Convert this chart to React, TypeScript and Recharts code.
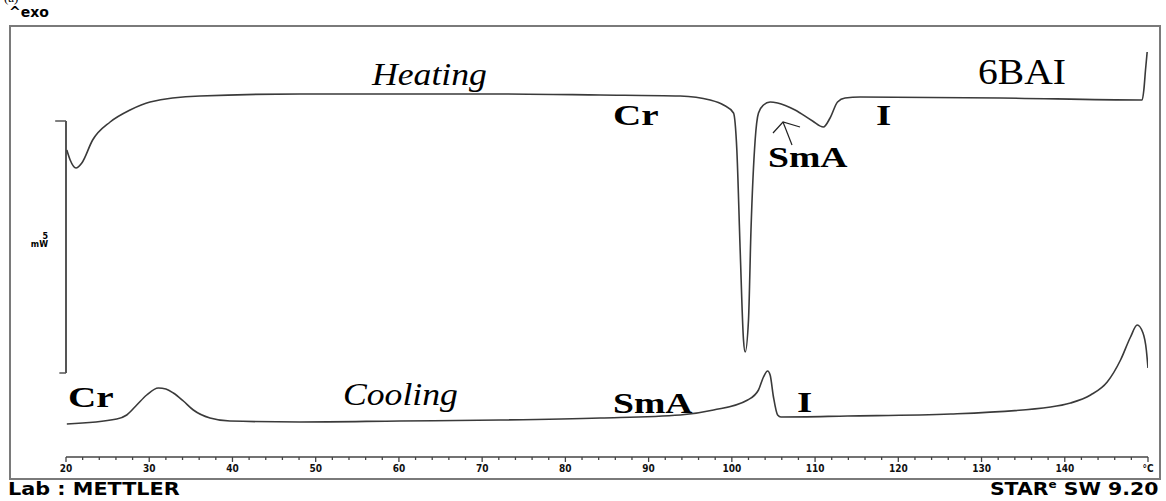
import { LineChart, Line, XAxis, YAxis, ReferenceLine } from "recharts";

// DSC trace of 6BAI, heat flow in mW (exo up)
const heatingT = [
  20.1, 20.5, 21.2, 21.9, 23.2, 25.3, 27.7, 30.1, 36.1, 48.1, 60.1, 72.2, 84.2, 93.8, 97.4, 99.0,
  100.2, 100.6, 101.0, 101.4, 101.6, 102.0, 102.3, 102.8, 103.2, 103.8, 104.6, 105.5, 107.6, 109.7,
  111.0, 111.8, 112.7, 113.6, 115.4, 132.3, 149.1, 149.3, 149.5, 149.7, 149.9,
];
const heatingMW = [
  6.2, 6.0, 5.84, 5.94, 6.4, 6.76, 7.0, 7.16, 7.28, 7.32, 7.32, 7.32, 7.3, 7.28, 7.2, 7.1,
  6.94, 6.2, 4.2, 2.4, 2.16, 2.8, 4.6, 6.4, 6.94, 7.1, 7.16, 7.14, 7.0, 6.78,
  6.66, 6.84, 7.16, 7.24, 7.26, 7.24, 7.2, 7.2, 7.4, 7.8, 8.16,
];

const coolingT = [
  20.1, 26.1, 27.3, 28.5, 29.7, 31.1, 32.0, 32.9, 34.1, 35.3, 37.3, 39.7, 48.1, 60.1, 72.2, 84.2,
  93.8, 97.8, 101.9, 103.2, 103.8, 104.3, 104.6, 105.0, 105.5, 105.9, 113.9, 126.3, 138.3, 140.7,
  143.1, 145.1, 146.7, 147.9, 148.7, 149.4, 149.8, 150.0,
];
const coolingMW = [
  0.72, 0.82, 0.9, 1.1, 1.3, 1.44, 1.42, 1.34, 1.18, 1.0, 0.84, 0.78, 0.76, 0.78, 0.8, 0.84,
  0.9, 1.0, 1.2, 1.4, 1.66, 1.78, 1.7, 1.26, 0.9, 0.86, 0.88, 0.92, 1.06, 1.14,
  1.3, 1.56, 2.0, 2.46, 2.7, 2.54, 2.2, 1.84,
];

const axisTicks = Array.from({ length: 66 }, (_, i) => 20 + i * 2);
const unitLabel = "°C";

// 5 mW scale bar
const barBottom = 1.74;
const barTop = 6.78;

const heating = heatingT.map((t, i) => ({ t, v: heatingMW[i] }));
const cooling = coolingT.map((t, i) => ({ t, v: coolingMW[i] }));

const LINE = "#3a3a3a";
const FRAME = "#7a7a7a";

function AxisTick({ x, y, payload }: any) {
  const v = payload.value as number;
  const major = v % 10 === 0;
  const label = v === 150 ? unitLabel : major ? String(v) : "";
  return (
    <g>
      <line x1={x} y1={y} x2={x} y2={y + (major ? 5 : 3)} stroke="#444" strokeWidth={1.3} />
      {label && (
        <text
          x={x}
          y={y + 15}
          textAnchor="middle"
          fontSize={10}
          fontWeight="bold"
          fontFamily="'DejaVu Sans Condensed', 'DejaVu Sans', sans-serif"
          fill="#111"
        >
          {label}
        </text>
      )}
    </g>
  );
}

const serif = "'Liberation Serif', 'DejaVu Serif', serif";
const heavy = "'DejaVu Sans', Verdana, sans-serif";

function Note({ left, top, size, text, bold, italic, sx = 1 }: any) {
  return (
    <span
      style={{
        position: "absolute",
        left,
        top,
        fontFamily: serif,
        fontSize: size,
        fontWeight: bold ? "bold" : "normal",
        fontStyle: italic ? "italic" : "normal",
        lineHeight: 1,
        whiteSpace: "nowrap",
        transform: `translateY(-50%) scaleX(${sx})`,
        transformOrigin: "left center",
        color: "#000",
      }}
    >
      {text}
    </span>
  );
}

export default function App() {
  return (
    <div style={{ position: "absolute", left: 0, top: 0, width: 1166, height: 501, background: "#fff", overflow: "hidden" }}>
      <LineChart width={1166} height={501} margin={{ top: 26, right: 18, left: 66, bottom: 20 }}>
        <XAxis
          type="number"
          dataKey="t"
          domain={[20, 150]}
          ticks={axisTicks}
          interval={0}
          tickSize={0}
          tickMargin={0}
          tickLine={false}
          tick={<AxisTick />}
          stroke="#444"
          strokeWidth={1.3}
          height={24}
          allowDataOverflow
        />
        <YAxis type="number" dataKey="v" domain={[0.06, 8.68]} hide allowDataOverflow />
        <ReferenceLine
          segment={[{ x: 20, y: barBottom }, { x: 20, y: barTop }]}
          stroke="#555"
          strokeWidth={2}
          ifOverflow="visible"
        />
        <ReferenceLine
          segment={[{ x: 18.7, y: barTop }, { x: 20, y: barTop }]}
          stroke="#555"
          strokeWidth={1.5}
          ifOverflow="visible"
        />
        <ReferenceLine
          segment={[{ x: 19.2, y: barBottom }, { x: 20, y: barBottom }]}
          stroke="#555"
          strokeWidth={1.5}
          ifOverflow="visible"
        />
        <Line
          data={heating}
          dataKey="v"
          type="monotone"
          stroke={LINE}
          strokeWidth={1.6}
          dot={false}
          isAnimationActive={false}
        />
        <Line
          data={cooling}
          dataKey="v"
          type="monotone"
          stroke={LINE}
          strokeWidth={1.6}
          dot={false}
          isAnimationActive={false}
        />
      </LineChart>

      {/* instrument frame */}
      <div
        style={{
          position: "absolute",
          left: 9,
          top: 25,
          width: 1152,
          height: 455,
          border: `2px solid ${FRAME}`,
          boxSizing: "border-box",
          pointerEvents: "none",
        }}
      />

      <span style={{ position: "absolute", left: 4, top: -9, fontFamily: serif, fontSize: 13, lineHeight: 1 }}>(a)</span>
      <span style={{ position: "absolute", left: 9, top: 5, fontFamily: heavy, fontWeight: 900, fontSize: 14, lineHeight: 1 }}>^exo</span>

      <div style={{ position: "absolute", left: 26, top: 233, fontFamily: heavy, fontWeight: "bold", fontSize: 8, lineHeight: "8px", textAlign: "right", width: 22 }}>
        5<br />mW
      </div>

      <Note left={372} top={74} size={31} text="Heating" italic sx={1.15} />
      <Note left={978} top={72} size={36} text="6BAI" sx={1.1} />
      <Note left={613} top={115} size={29} text="Cr" bold sx={1.35} />
      <Note left={876} top={115} size={29} text="I" bold sx={1.35} />
      <Note left={768} top={157} size={29} text="SmA" bold sx={1.3} />

      <Note left={68} top={397} size={29} text="Cr" bold sx={1.35} />
      <Note left={343} top={394} size={31} text="Cooling" italic sx={1.15} />
      <Note left={613} top={403} size={29} text="SmA" bold sx={1.3} />
      <Note left={797} top={402} size={29} text="I" bold sx={1.35} />

      <svg style={{ position: "absolute", left: 0, top: 0 }} width={1166} height={501} pointerEvents="none">
        <polyline points="773,133 783,122 800,127" fill="none" stroke="#222" strokeWidth={1.2} />
        <line x1={783} y1={122} x2={792} y2={145} stroke="#222" strokeWidth={1.2} />
      </svg>

      <span
        style={{
          position: "absolute",
          left: 8,
          top: 481,
          fontFamily: heavy,
          fontWeight: 900,
          fontSize: 17,
          lineHeight: 1,
          whiteSpace: "nowrap",
          transform: "scaleX(1.22)",
          transformOrigin: "left top",
        }}
      >
        Lab : METTLER
      </span>
      <span
        style={{
          position: "absolute",
          right: 8,
          top: 481,
          fontFamily: heavy,
          fontWeight: 900,
          fontSize: 17,
          lineHeight: 1,
          whiteSpace: "nowrap",
          transform: "scaleX(1.2)",
          transformOrigin: "right top",
        }}
      >
        STAR<sup style={{ fontSize: 10, lineHeight: 0 }}>e</sup> SW 9.20
      </span>
    </div>
  );
}
